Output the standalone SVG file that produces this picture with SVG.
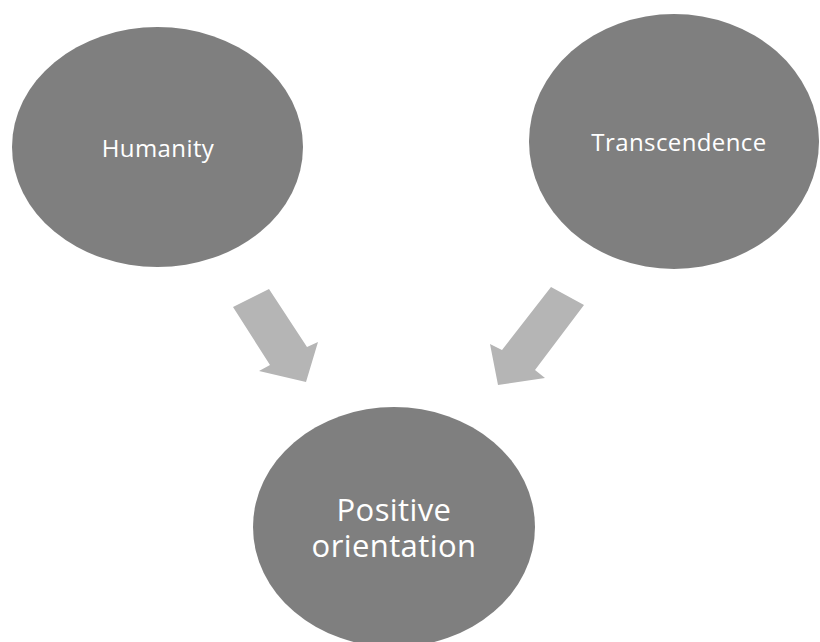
<svg xmlns="http://www.w3.org/2000/svg" width="820" height="642" viewBox="0 0 820 642">
  <style>
    .node { fill: #7f7f7f; }
    .label { fill: #ffffff; font-family: "Open Sans", "Liberation Sans", sans-serif; text-anchor: middle; }
    .small { font-size: 24px; letter-spacing: 0.4px; }
    .big { font-size: 31px; letter-spacing: 0.4px; }
    .arrow { fill: #b5b5b5; }
  </style>
  <rect width="820" height="642" fill="#ffffff"/>
  <g id="humanity">
    <ellipse class="node" cx="157.5" cy="147" rx="145.5" ry="120"/>
    <text class="label small" x="158" y="157">Humanity</text>
  </g>
  <g id="transcendence">
    <ellipse class="node" cx="674" cy="141.5" rx="145" ry="127.5"/>
    <text class="label small" x="679" y="151">Transcendence</text>
  </g>
  <g id="positive-orientation">
    <ellipse class="node" cx="394" cy="527" rx="141" ry="120"/>
    <text class="label big" x="394" y="521">Positive</text>
    <text class="label big" x="394" y="557">orientation</text>
  </g>
  <g id="connectors">
    <polygon class="arrow" points="233,307 269,289 307,347 318,342 306,382 259,371 270,365"/>
    <polygon class="arrow" points="584,305 551,287 502,350 490,344 498,385 545,378 535,370"/>
  </g>
</svg>
